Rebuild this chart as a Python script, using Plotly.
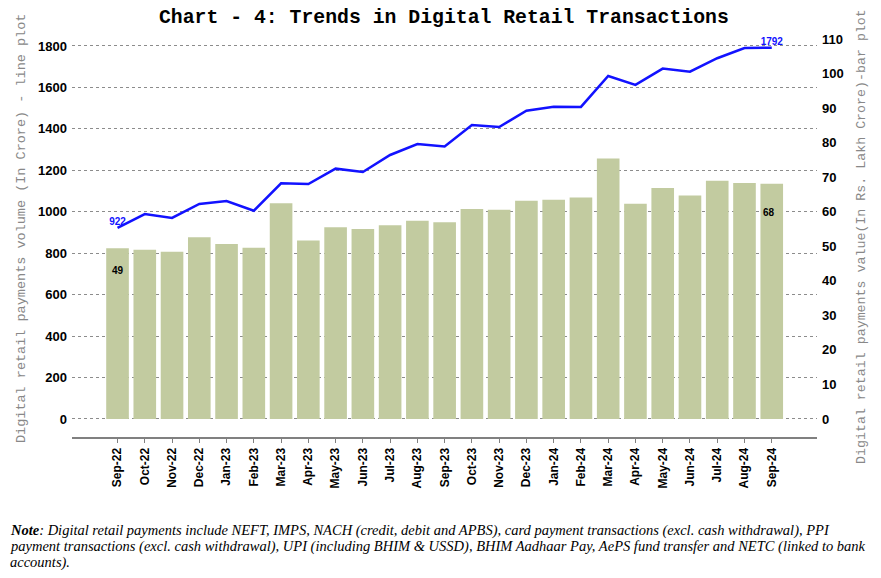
import plotly.graph_objects as go

months = ["Sep-22", "Oct-22", "Nov-22", "Dec-22", "Jan-23", "Feb-23", "Mar-23", "Apr-23",
          "May-23", "Jun-23", "Jul-23", "Aug-23", "Sep-23", "Oct-23", "Nov-23", "Dec-23",
          "Jan-24", "Feb-24", "Mar-24", "Apr-24", "May-24", "Jun-24", "Jul-24", "Aug-24", "Sep-24"]

volume_crore = [922, 989, 970, 1038, 1052, 1005, 1137, 1134, 1208, 1192, 1274, 1327, 1315,
                1419, 1409, 1488, 1507, 1506, 1655, 1612, 1691, 1676, 1741, 1790, 1792]

value_lakh_crore = [49.4, 49.0, 48.4, 52.6, 50.7, 49.6, 62.5, 51.7, 55.5, 55.0, 56.1, 57.4, 57.0,
                    60.8, 60.6, 63.2, 63.5, 64.1, 75.4, 62.3, 66.9, 64.7, 69.0, 68.3, 68.1]

line_labels = ["922"] + [""] * 23 + ["1792"]
bar_label_first = "49"
bar_label_last = "68"

title_text = "Chart - 4: Trends in Digital Retail Transactions"
left_title = "Digital retail payments volume (In Crore) - line plot"
right_title = "Digital retail payments value(In Rs. Lakh Crore)-bar plot"
note_lines = [
    "<b>Note</b>: Digital retail payments include NEFT, IMPS, NACH (credit, debit and APBS), card payment transactions (excl. cash withdrawal), PPI",
    "payment transactions (excl. cash withdrawal), UPI (including BHIM &amp; USSD), BHIM Aadhaar Pay, AePS fund transfer and NETC (linked to bank",
    "accounts).",
]

left_ticks = list(range(0, 1801, 200))
right_ticks = list(range(0, 111, 10))

BAR = "#C2CBA0"
LINE = "#1212FF"
GRID = "#8c8c8c"

# page has an 8px body margin; figure is sized to fit inside the window
OFF = 8
W, H = 881 - 2 * OFF, 578 - 2 * OFF
# plot area in page pixels: x 72..817, y 35..437
ml = 72 - OFF
mr = W - (817 - OFF)
mt = 35 - OFF
mb = H - (437 - OFF)
pw, ph = W - ml - mr, H - mt - mb


def px_to_paper(xp, yp):
    xf, yf = xp - OFF, yp - OFF
    return (xf - ml) / pw, (H - mb - yf) / ph


fig = go.Figure()
fig.add_trace(go.Bar(
    x=months, y=value_lakh_crore, yaxis="y2", marker=dict(color=BAR, line=dict(width=0)),
    showlegend=False, hoverinfo="skip"))
fig.add_trace(go.Scatter(
    x=months, y=volume_crore, yaxis="y", mode="lines+text", text=line_labels,
    textposition="top center",
    textfont=dict(family="Liberation Sans", size=10, color=LINE, weight="bold"),
    line=dict(color=LINE, width=2.5), showlegend=False, hoverinfo="skip"))

lblfont = dict(family="Liberation Sans", size=10, color="black", weight="bold")
annotations = [
    dict(x=months[0], y=value_lakh_crore[0], xref="x", yref="y2", text=bar_label_first,
         showarrow=False, yshift=-22, font=lblfont),
    dict(x=months[-1], y=value_lakh_crore[-1], xref="x", yref="y2", text=bar_label_last,
         showarrow=False, yshift=-29, xshift=-3, font=lblfont),
]
lx, ly = px_to_paper(21, 229)
rx, ry = px_to_paper(861, 237)
annotations.append(dict(x=lx, y=ly, xref="paper", yref="paper", text=left_title, showarrow=False,
                        textangle=-90, xanchor="center", yanchor="middle",
                        font=dict(family="Liberation Mono", size=13.5, color="#888888")))
annotations.append(dict(x=rx, y=ry, xref="paper", yref="paper", text=right_title, showarrow=False,
                        textangle=-90, xanchor="center", yanchor="middle",
                        font=dict(family="Liberation Mono", size=13.3, color="#888888")))
tx, ty = px_to_paper(444, 18)
annotations.append(dict(x=tx, y=ty, xref="paper", yref="paper", text=title_text, showarrow=False,
                        xanchor="center", yanchor="middle",
                        font=dict(family="Liberation Mono", size=19.8, color="black", weight="bold")))
for line, ypx in zip(note_lines, [530, 546, 562]):
    nx, ny = px_to_paper(OFF, ypx)
    annotations.append(dict(x=nx, y=ny, xref="paper", yref="paper", text="<i>" + line + "</i>",
                            showarrow=False, xanchor="left", yanchor="middle", align="left",
                            font=dict(family="Liberation Serif", size=14.5, color="black")))

fig.update_layout(
    width=W, height=H,
    margin=dict(l=ml, r=mr, t=mt, b=mb, pad=0),
    paper_bgcolor="white", plot_bgcolor="white",
    bargap=0.17,
    xaxis=dict(type="category", range=[-1.67, 25.66], showline=True, linecolor="#808080",
               linewidth=2, ticks="outside", ticklen=4, tickcolor="#808080", tickangle=-90,
               showgrid=False,
               tickfont=dict(family="Liberation Sans", size=12, color="black", weight="bold")),
    yaxis=dict(range=[-86.9, 1853], tickvals=left_ticks, showgrid=True, gridcolor=GRID,
               griddash="dot", gridwidth=1, zeroline=False, showline=False, ticklabelstandoff=4,
               tickfont=dict(family="Liberation Sans", size=13, color="black", weight="bold")),
    yaxis2=dict(range=[-5.214, 111.18], tickvals=right_ticks, overlaying="y", side="right",
                showgrid=False, zeroline=False, showline=False, ticklabelstandoff=4,
                tickfont=dict(family="Liberation Sans", size=13, color="black", weight="bold")),
    annotations=annotations,
)

fig.write_html("out.html")
